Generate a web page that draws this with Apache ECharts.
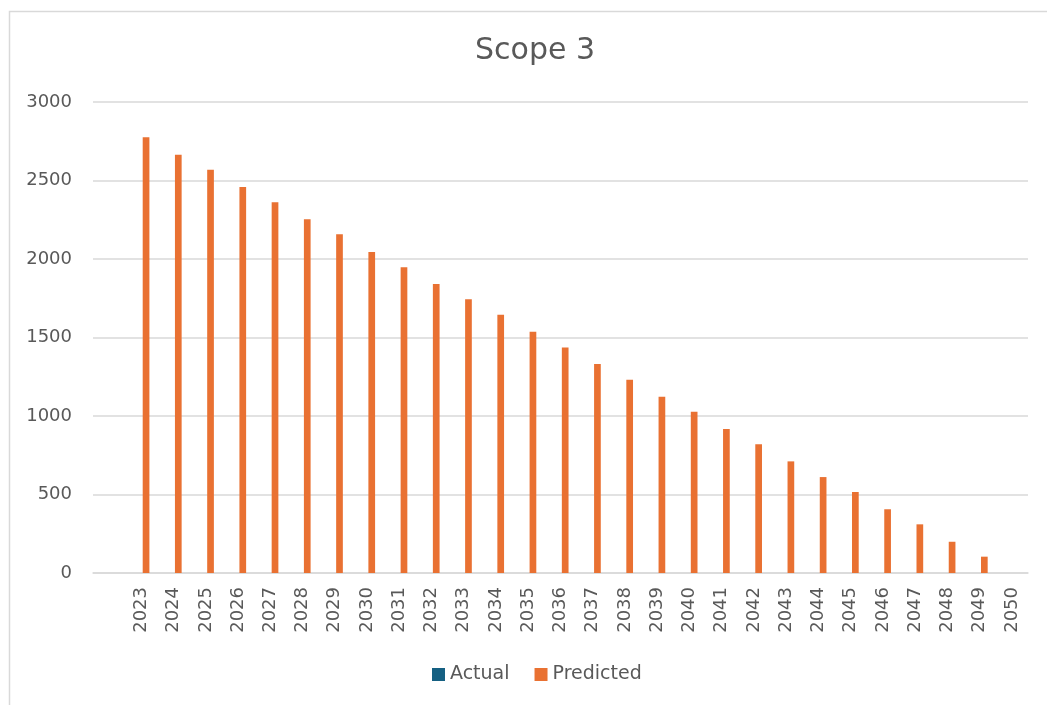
<!DOCTYPE html>
<html>
<head>
<meta charset="utf-8">
<script src="https://cdn.jsdelivr.net/npm/echarts@6/dist/echarts.min.js"></script>
<style>html,body{margin:0;padding:0;background:#fff;}#c{width:1047px;height:705px;}</style>
</head>
<body>
<div id="c"></div>
<script>
const categories = ['', '2023','2024','2025','2026','2027','2028','2029','2030','2031','2032','2033','2034','2035','2036','2037','2038','2039','2040','2041','2042','2043','2044','2045','2046','2047','2048','2049','2050'];
const actual = [null,null,null,null,null,null,null,null,null,null,null,null,null,null,null,null,null,null,null,null,null,null,null,null,null,null,null,null,null];
const predicted = [null,2775,2664,2569,2459,2361,2253,2157,2045,1947,1841,1743,1645,1537,1437,1331,1231,1123,1027,917,820,711,611,516,406,310,199,104,0];
const yTicks = [0,500,1000,1500,2000,2500,3000];

const font = 'DejaVu Sans, Verdana, sans-serif';
const chart = echarts.init(document.getElementById('c'));
chart.setOption({
  animation: false,
  backgroundColor: '#fff',
  graphic: [{
    type: 'rect', left: 7, top: 9, silent: true,
    shape: {x: 0, y: 0, width: 1200, height: 900},
    style: {fill: 'none', stroke: '#d9d9d9', lineWidth: 1.5}
  }],
  title: {
    text: 'Scope 3', left: 470, top: 31,
    textStyle: {fontFamily: font, fontSize: 30, fontWeight: 'normal', color: '#595959'}
  },
  legend: {
    bottom: 16, left: 427, itemGap: 25, itemWidth: 13, itemHeight: 13,
    icon: 'rect',
    textStyle: {fontFamily: font, fontSize: 19, color: '#595959'},
    data: ['Actual', 'Predicted']
  },
  grid: {left: 93, right: 19, top: 102, bottom: 132, containLabel: false},
  xAxis: {
    type: 'category', data: categories,
    axisLine: {show: true, lineStyle: {color: '#d9d9d9', width: 1.5}},
    axisTick: {show: false},
    axisLabel: {rotate: 90, interval: 0, margin: 14, fontFamily: font, fontSize: 18, color: '#595959'}
  },
  yAxis: {
    type: 'value', min: 0, max: 3000, interval: 500,
    axisLine: {show: false}, axisTick: {show: false},
    splitLine: {lineStyle: {color: '#d9d9d9', width: 1.5}},
    axisLabel: {margin: 21, fontFamily: font, fontSize: 18, color: '#595959',
      formatter: v => yTicks.includes(v) ? String(v) : ''}
  },
  series: [
    {name: 'Actual', type: 'bar', data: actual, barWidth: 6.7, barGap: '40%', itemStyle: {color: '#156082'}},
    {name: 'Predicted', type: 'bar', data: predicted, barWidth: 6.7, barGap: '40%', itemStyle: {color: '#E97132'}}
  ]
});
</script>
</body>
</html>
